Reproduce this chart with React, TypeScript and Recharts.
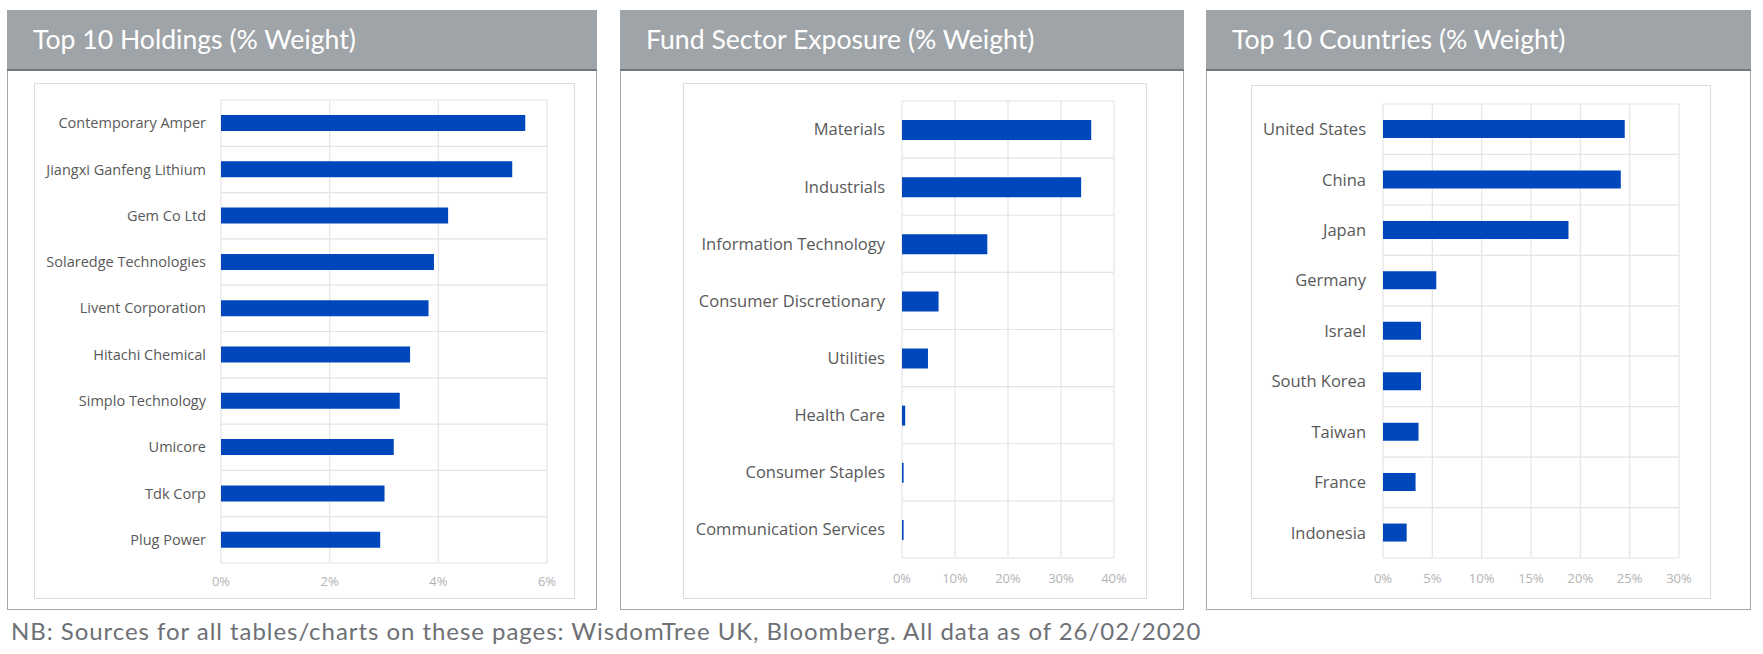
import React from 'react';
import { BarChart, Bar, XAxis, YAxis, CartesianGrid } from 'recharts';

// Top 10 holdings, % weight
const holdingNames = [
  'Contemporary Amper',
  'Jiangxi Ganfeng Lithium',
  'Gem Co Ltd',
  'Solaredge Technologies',
  'Livent Corporation',
  'Hitachi Chemical',
  'Simplo Technology',
  'Umicore',
  'Tdk Corp',
  'Plug Power',
];
const holdingWeights = [5.6, 5.36, 4.18, 3.92, 3.82, 3.48, 3.29, 3.18, 3.01, 2.93];
const holdingTicks = [0, 2, 4, 6];

// Fund sector exposure, % weight
const sectorNames = [
  'Materials',
  'Industrials',
  'Information Technology',
  'Consumer Discretionary',
  'Utilities',
  'Health Care',
  'Consumer Staples',
  'Communication Services',
];
const sectorWeights = [35.7, 33.8, 16.1, 6.9, 4.9, 0.6, 0.3, 0.3];
const sectorTicks = [0, 10, 20, 30, 40];

// Top 10 countries, % weight
const countryNames = [
  'United States',
  'China',
  'Japan',
  'Germany',
  'Israel',
  'South Korea',
  'Taiwan',
  'France',
  'Indonesia',
];
const countryWeights = [24.5, 24.1, 18.8, 5.4, 3.85, 3.85, 3.6, 3.3, 2.4];
const countryTicks = [0, 5, 10, 15, 20, 25, 30];

const BAR_COLOR = '#0047BB';
const GRID_COLOR = '#e4e4e4';
const HEADER_COLOR = '#9fa4a9';
const TITLE_FONT = 'Lato, "Open Sans", sans-serif';
const LABEL_FONT = '"Open Sans", "Noto Sans", sans-serif';

const toRows = (names: string[], values: number[]) =>
  names.map((name, i) => ({ name, value: values[i] }));

// horizontal grid lines sit on the band edges, like the Excel original
const bandLines = (count: number) => (props: any) => {
  const off = props.offset || {};
  const top = off.top ?? 0;
  const h = off.height ?? 0;
  return Array.from({ length: count + 1 }, (_, i) => top + (h * i) / count);
};

interface PanelProps {
  title: string;
  left: number;
  width: number;
  box: { left: number; top: number; width: number; height: number };
  names: string[];
  values: number[];
  ticks: number[];
  labelWidth: number;
  labelSize: number;
  margin: { top: number; right: number; bottom: number };
  barSize: number;
  labelGap: number;
  tickGap: number;
}

function Panel({
  title,
  left,
  width,
  box,
  names,
  values,
  ticks,
  labelWidth,
  labelSize,
  margin,
  barSize,
  labelGap,
  tickGap,
}: PanelProps) {
  const data = toRows(names, values);
  return (
    <>
      <div
        style={{
          position: 'absolute',
          left,
          top: 10,
          width,
          height: 600,
          boxSizing: 'border-box',
          border: '1px solid #a4a8ac',
          borderTop: 'none',
        }}
      />
      <div
        style={{
          position: 'absolute',
          left,
          top: 10,
          width,
          height: 61,
          boxSizing: 'border-box',
          background: HEADER_COLOR,
          borderBottom: '2px solid #737880',
          color: '#ffffff',
          fontFamily: TITLE_FONT,
          fontSize: 26.6,
          display: 'flex',
          alignItems: 'center',
          paddingLeft: 26,
          paddingBottom: 2,
        }}
      >
        {title}
      </div>
      <div
        style={{
          position: 'absolute',
          left: box.left,
          top: box.top,
          width: box.width,
          height: box.height,
          boxSizing: 'border-box',
          border: '1px solid #dcdcdc',
        }}
      >
        <BarChart
          width={box.width - 2}
          height={box.height - 2}
          data={data}
          layout="vertical"
          margin={{ top: margin.top, right: margin.right, bottom: margin.bottom, left: 0 }}
        >
          <CartesianGrid
            stroke={GRID_COLOR}
            strokeWidth={1.2}
            horizontalCoordinatesGenerator={bandLines(names.length)}
          />
          <XAxis
            type="number"
            domain={[ticks[0], ticks[ticks.length - 1]]}
            ticks={ticks}
            tickFormatter={(v: number) => `${v}%`}
            axisLine={false}
            tickLine={false}
            tickMargin={tickGap}
            interval={0}
            tick={{ fill: '#b3b3b3', fontSize: 13, fontFamily: LABEL_FONT }}
          />
          <YAxis
            type="category"
            dataKey="name"
            width={labelWidth}
            axisLine={false}
            tickLine={false}
            tickMargin={labelGap}
            interval={0}
            tick={{ fill: '#595959', fontSize: labelSize, fontFamily: LABEL_FONT }}
          />
          <Bar dataKey="value" fill={BAR_COLOR} barSize={barSize} isAnimationActive={false} />
        </BarChart>
      </div>
    </>
  );
}

export default function App() {
  return (
    <div
      style={{
        position: 'absolute',
        left: 0,
        top: 0,
        width: 1763,
        height: 654,
        background: '#ffffff',
        overflow: 'hidden',
      }}
    >
      <Panel
        title="Top 10 Holdings (% Weight)"
        left={7}
        width={590}
        box={{ left: 34, top: 83, width: 541, height: 516 }}
        names={holdingNames}
        values={holdingWeights}
        ticks={holdingTicks}
        labelWidth={186}
        labelSize={14.5}
        margin={{ top: 16, right: 27, bottom: 5 }}
        barSize={16}
        labelGap={9}
        tickGap={8}
      />
      <Panel
        title="Fund Sector Exposure (% Weight)"
        left={620}
        width={564}
        box={{ left: 683, top: 83, width: 464, height: 516 }}
        names={sectorNames}
        values={sectorWeights}
        ticks={sectorTicks}
        labelWidth={218}
        labelSize={16.5}
        margin={{ top: 17, right: 32, bottom: 10 }}
        barSize={20}
        labelGap={11}
        tickGap={10}
      />
      <Panel
        title="Top 10 Countries (% Weight)"
        left={1206}
        width={545}
        box={{ left: 1251, top: 85, width: 460, height: 514 }}
        names={countryNames}
        values={countryWeights}
        ticks={countryTicks}
        labelWidth={131}
        labelSize={16.5}
        margin={{ top: 18, right: 31, bottom: 10 }}
        barSize={18}
        labelGap={11}
        tickGap={10}
      />
      <div
        style={{
          position: 'absolute',
          left: 11,
          top: 616,
          fontFamily: TITLE_FONT,
          fontSize: 24,
          letterSpacing: 0.95,
          color: '#6d7074',
          whiteSpace: 'nowrap',
        }}
      >
        NB: Sources for all tables/charts on these pages: WisdomTree UK, Bloomberg. All data as of
        26/02/2020
      </div>
    </div>
  );
}
